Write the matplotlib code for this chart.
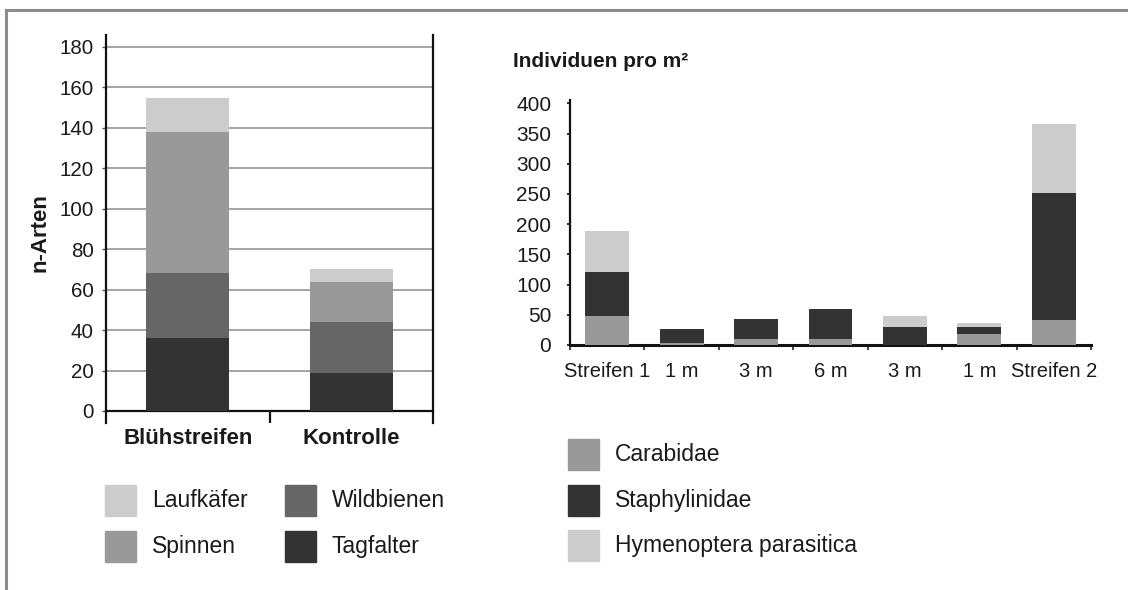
import matplotlib
matplotlib.use("Agg")
import matplotlib.pyplot as plt
from matplotlib.patches import Rectangle
from matplotlib.lines import Line2D
import numpy as np

plt.rcParams['font.family'] = ['Liberation Sans', 'DejaVu Sans']

# ---- Data: left chart (number of species) ----
left_categories = ["Blühstreifen", "Kontrolle"]
tagfalter = [36, 19]
wildbienen = [32, 25]
spinnen = [70, 20]
laufkaefer = [17, 6]
left_yticks = [0, 20, 40, 60, 80, 100, 120, 140, 160, 180]

# ---- Data: right chart (individuals per m²) ----
right_categories = ["Streifen 1", "1 m", "3 m", "6 m", "3 m", "1 m", "Streifen 2"]
carabidae = [48, 4, 10, 10, 0, 19, 41]
staphylinidae = [72, 22, 33, 49, 29, 10, 210]
hymenoptera = [68, 1, 0, 0, 19, 7, 115]
right_yticks = [0, 50, 100, 150, 200, 250, 300, 350, 400]

C_DARK = "#333333"
C_MID = "#666666"
C_GRAY = "#999999"
C_LIGHT = "#cccccc"

W, H = 1128, 590
fig = plt.figure(figsize=(W / 100, H / 100), dpi=100)


def fx(px):
    return px / W


def fy(py):
    return 1 - py / H


# outer frame
fig.add_artist(Line2D([fx(6), 1], [fy(10), fy(10)], color="#8c8c8c", lw=2.2, transform=fig.transFigure))
fig.add_artist(Line2D([fx(6), fx(6)], [fy(10), 0], color="#8c8c8c", lw=2.2, transform=fig.transFigure))

# ================= Left chart =================
axL = fig.add_axes([fx(106), fy(423), fx(433) - fx(106), fy(35) - fy(423)])
xL = np.arange(len(left_categories))
bw = 0.51
series_left = [("Tagfalter", tagfalter, C_DARK), ("Wildbienen", wildbienen, C_MID),
               ("Spinnen", spinnen, C_GRAY), ("Laufkäfer", laufkaefer, C_LIGHT)]
bottom = np.zeros(len(xL))
for name, vals, col in series_left:
    axL.bar(xL, vals, bw, bottom=bottom, color=col, zorder=3, linewidth=0)
    bottom += np.array(vals)

per_px = 180 / (411 - 47)
axL.set_ylim(-12 * per_px, 180 + 12 * per_px)
axL.set_xlim(-0.5, 1.5)
axL.set_yticks(left_yticks)
axL.set_yticklabels([str(v) for v in left_yticks], fontsize=14.8, color="#1a1a1a")
for v in left_yticks[1:]:
    axL.axhline(v, color="#8a8a8a", lw=1.1, zorder=1)
axL.tick_params(axis='y', length=3, width=1, color="#555555", pad=6)
axL.spines['top'].set_visible(False)
for s in ['left', 'right']:
    axL.spines[s].set_linewidth(1.6)
    axL.spines[s].set_color("#111111")
axL.spines['bottom'].set_position(('data', 0))
axL.spines['bottom'].set_linewidth(1.6)
axL.spines['bottom'].set_color("#111111")
axL.set_xticks(xL)
axL.set_xticklabels(left_categories, fontsize=16, fontweight='bold', color="#1a1a1a")
axL.set_xticks([0.5], minor=True)
axL.tick_params(axis='x', which='major', length=0, pad=12.5)
axL.tick_params(axis='x', which='minor', length=8.6, width=1.6, color="#111111")
fig.text(fx(40), fy(233), "n-Arten", rotation=90, fontsize=16, fontweight='bold',
         ha='center', va='center', color="#1a1a1a")

# left legend
legend_left = [("Laufkäfer", C_LIGHT, 105, 485), ("Spinnen", C_GRAY, 105, 531),
               ("Wildbienen", C_MID, 285, 485), ("Tagfalter", C_DARK, 285, 531)]
for name, col, px, py in legend_left:
    fig.add_artist(Rectangle((fx(px), fy(py + 31)), 31 / W, 31 / H, color=col,
                             transform=fig.transFigure))
    fig.text(fx(px + 47), fy(py + 15.5), name, fontsize=16.5, ha='left', va='center',
             color="#1a1a1a")

# ================= Right chart =================
axR = fig.add_axes([fx(570), fy(345), fx(1091) - fx(570), fy(100) - fy(345)])
xR = np.arange(len(right_categories))
bwR = 0.59
series_right = [("Carabidae", carabidae, C_GRAY), ("Staphylinidae", staphylinidae, C_DARK),
                ("Hymenoptera parasitica", hymenoptera, C_LIGHT)]
bottom = np.zeros(len(xR))
for name, vals, col in series_right:
    axR.bar(xR, vals, bwR, bottom=bottom, color=col, zorder=3, linewidth=0)
    bottom += np.array(vals)

axR.set_xlim(-0.5, len(xR) - 0.5)
axR.set_ylim(0, 400 * 245 / (345 - 103.3))
axR.set_yticks(right_yticks)
axR.set_yticklabels([str(v) for v in right_yticks], fontsize=15, color="#1a1a1a")
axR.tick_params(axis='y', length=2.5, width=1.2, color="#111111", pad=11)
axR.spines['top'].set_visible(False)
axR.spines['right'].set_visible(False)
axR.spines['left'].set_linewidth(1.6)
axR.spines['bottom'].set_linewidth(2.2)
axR.spines['left'].set_color("#111111")
axR.spines['bottom'].set_color("#111111")
axR.set_xticks(xR)
axR.set_xticklabels(right_categories, fontsize=14.5, color="#1a1a1a")
axR.set_xticks(np.arange(-0.5, len(xR), 1.0), minor=True)
axR.tick_params(axis='x', which='major', length=0, pad=12)
axR.tick_params(axis='x', which='minor', length=3.6, width=1.1, color="#111111")
fig.text(fx(513), fy(66.7), "Individuen pro m²", fontsize=15, fontweight='bold',
         ha='left', va='baseline', color="#1a1a1a")

# right legend
for (name, vals, col), py in zip(series_right, [439, 485, 530]):
    fig.add_artist(Rectangle((fx(568), fy(py + 31)), 31 / W, 31 / H, color=col,
                             transform=fig.transFigure))
    fig.text(fx(615), fy(py + 15.5), name, fontsize=16.5, ha='left', va='center',
             color="#1a1a1a")

fig.savefig("out.png", dpi=100)
